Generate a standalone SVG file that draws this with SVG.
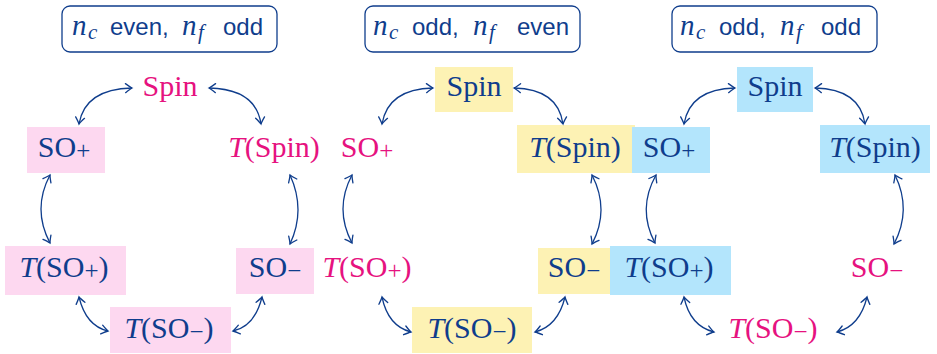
<svg xmlns="http://www.w3.org/2000/svg" width="937" height="354" viewBox="0 0 937 354">
<style>
.t{font-family:'Liberation Serif',serif;font-size:30px;text-anchor:middle}
.i{font-style:italic}
.s{font-size:25px}
.b{fill:#0f3d8c}
.m{fill:#e6127f}
.pk{fill:#fdd8f0}
.yl{fill:#fdf2b4}
.bl{fill:#b3e5fc}
.tb{fill:none;stroke:#0f3d8c;stroke-width:1.3}
.tt{font-family:'Liberation Sans',sans-serif;font-size:24px;fill:#0f3d8c}
.ti{font-family:'Liberation Serif',serif;font-style:italic;font-size:29px;fill:#0f3d8c}
.ts{font-family:'Liberation Serif',serif;font-style:italic;font-size:21px;fill:#0f3d8c}
#connectors path{fill:none;stroke:#0f3d8c;stroke-width:1.3;marker-start:url(#ah);marker-end:url(#ah)}
</style>
<defs>
<marker id="ah" viewBox="-8 -6 10 12" refX="0" refY="0" markerWidth="10" markerHeight="12" markerUnits="userSpaceOnUse" orient="auto-start-reverse" overflow="visible">
<path d="M-6.5,-4.5 Q-2,-1 0,0 Q-2,1 -6.5,4.5" fill="none" stroke="#0f3d8c" stroke-width="1.3" stroke-linecap="round"/>
</marker>
</defs>

<!-- Titles -->
<g id="title1">
<rect class="tb" x="62" y="6" width="215" height="46" rx="8"/>
<text class="ti" x="72" y="35">n</text><text class="ts" x="88" y="39">c</text>
<text class="tt" x="110" y="35">even,</text>
<text class="ti" x="182" y="35">n</text><text class="ts" x="198" y="39">f</text>
<text class="tt" x="223" y="35">odd</text>
</g>
<g id="title2">
<rect class="tb" x="365" y="6" width="215" height="46" rx="8"/>
<text class="ti" x="373" y="35">n</text><text class="ts" x="389" y="39">c</text>
<text class="tt" x="412" y="35">odd,</text>
<text class="ti" x="473" y="35">n</text><text class="ts" x="489" y="39">f</text>
<text class="tt" x="517" y="35">even</text>
</g>
<g id="title3">
<rect class="tb" x="672" y="6" width="205" height="46" rx="8"/>
<text class="ti" x="680" y="35">n</text><text class="ts" x="696" y="39">c</text>
<text class="tt" x="719" y="35">odd,</text>
<text class="ti" x="780" y="35">n</text><text class="ts" x="796" y="39">f</text>
<text class="tt" x="821" y="35">odd</text>
</g>

<!-- Panel 1 -->
<g id="p1-spin"><text class="t m" x="170" y="96">Spin</text></g>
<g id="p1-sop"><rect class="pk" x="27" y="127" width="78" height="46"/><text class="t b" x="64" y="157">SO<tspan class="s" dy="2">+</tspan></text></g>
<g id="p1-tspin"><text class="t m" x="274" y="157"><tspan class="i">T</tspan>(Spin)</text></g>
<g id="p1-tsop"><rect class="pk" x="5" y="246" width="121" height="49"/><text class="t b" x="64" y="277"><tspan class="i">T</tspan>(SO<tspan class="s" dy="2">+</tspan><tspan dy="-2">)</tspan></text></g>
<g id="p1-som"><rect class="pk" x="236" y="248" width="78" height="46"/><text class="t b" x="275" y="277">SO<tspan class="s" dy="2">−</tspan></text></g>
<g id="p1-tsom"><rect class="pk" x="110" y="307" width="121" height="46"/><text class="t b" x="169" y="338"><tspan class="i">T</tspan>(SO<tspan class="s" dy="2">−</tspan><tspan dy="-2">)</tspan></text></g>

<!-- Panel 2 -->
<g id="p2-spin"><rect class="yl" x="435" y="67" width="78" height="45"/><text class="t b" x="474" y="96">Spin</text></g>
<g id="p2-sop"><text class="t m" x="367" y="157">SO<tspan class="s" dy="2">+</tspan></text></g>
<g id="p2-tspin"><rect class="yl" x="517" y="125" width="118" height="48"/><text class="t b" x="575" y="157"><tspan class="i">T</tspan>(Spin)</text></g>
<g id="p2-tsop"><text class="t m" x="367" y="277"><tspan class="i">T</tspan>(SO<tspan class="s" dy="2">+</tspan><tspan dy="-2">)</tspan></text></g>
<g id="p2-som"><rect class="yl" x="538" y="248" width="72" height="46"/><text class="t b" x="574" y="277">SO<tspan class="s" dy="2">−</tspan></text></g>
<g id="p2-tsom"><rect class="yl" x="412" y="307" width="120" height="46"/><text class="t b" x="472" y="338"><tspan class="i">T</tspan>(SO<tspan class="s" dy="2">−</tspan><tspan dy="-2">)</tspan></text></g>

<!-- Panel 3 -->
<g id="p3-spin"><rect class="bl" x="737" y="67" width="76" height="45"/><text class="t b" x="775" y="96">Spin</text></g>
<g id="p3-sop"><rect class="bl" x="632" y="127" width="78" height="46"/><text class="t b" x="669" y="157">SO<tspan class="s" dy="2">+</tspan></text></g>
<g id="p3-tspin"><rect class="bl" x="820" y="125" width="110" height="48"/><text class="t b" x="875" y="157"><tspan class="i">T</tspan>(Spin)</text></g>
<g id="p3-tsop"><rect class="bl" x="610" y="246" width="121" height="49"/><text class="t b" x="669" y="277"><tspan class="i">T</tspan>(SO<tspan class="s" dy="2">+</tspan><tspan dy="-2">)</tspan></text></g>
<g id="p3-som"><text class="t m" x="877" y="277">SO<tspan class="s" dy="2">−</tspan></text></g>
<g id="p3-tsom"><text class="t m" x="773" y="338"><tspan class="i">T</tspan>(SO<tspan class="s" dy="2">−</tspan><tspan dy="-2">)</tspan></text></g>

<g id="connectors">
<path d="M132,88 Q85,89 79,124"/>
<path d="M209,88 Q256,89 261,124"/>
<path d="M50,175 Q32,209 50,243"/>
<path d="M290,175 Q306,210 290,244"/>
<path d="M79,297 Q86,326 108,331"/>
<path d="M262,297 Q255,326 233,331"/>

<path d="M433,88 Q388,89 382,124"/>
<path d="M514,88 Q558,89 563,124"/>
<path d="M352,175 Q334,209 352,243"/>
<path d="M592,175 Q610,210 592,244"/>
<path d="M382,297 Q388,326 411,332"/>
<path d="M565,297 Q558,326 535,332"/>

<path d="M735,88 Q690,89 684,124"/>
<path d="M815,88 Q860,89 865,124"/>
<path d="M656,175 Q637,209 655,243"/>
<path d="M895,175 Q912,210 894,244"/>
<path d="M684,297 Q690,326 714,332"/>
<path d="M867,297 Q860,326 837,332"/>
</g>
</svg>
